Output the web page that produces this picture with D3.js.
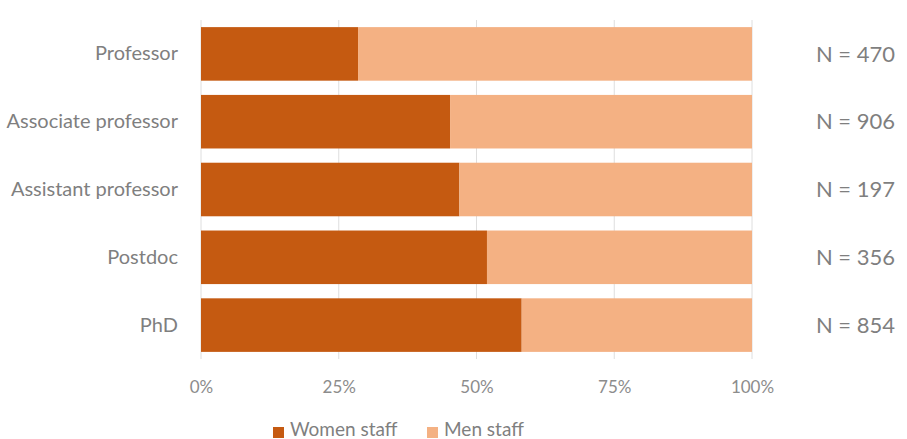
<!DOCTYPE html>
<html><head><meta charset="utf-8">
<script src="https://cdn.jsdelivr.net/npm/d3@7"></script>
<style>body{margin:0;background:#fff;} text{font-family:Lato,"Open Sans",sans-serif;}</style>
</head><body>
<svg id="chart" width="907" height="439"></svg>
<script>
const categories = ["Professor","Associate professor","Assistant professor","Postdoc","PhD"];
const womenShare = [28.5, 45.2, 46.9, 51.9, 58.2];
const menShare = [71.5, 54.8, 53.1, 48.1, 41.8];
const nLabels = ["N = 470","N = 906","N = 197","N = 356","N = 854"];
const tickValues = [0, 25, 50, 75, 100];
const seriesNames = ["Women staff","Men staff"];
const colors = ["#c55a11","#f4b183"];

const svg = d3.select("#chart");
const x = d3.scaleLinear().domain([0,100]).range([201,752]);
const y = d3.scaleBand().domain(categories).range([20,359]).paddingInner(0.21).paddingOuter(0.105);

// gridlines
svg.append("g").selectAll("line").data(tickValues).join("line")
  .attr("x1", d=>x(d)).attr("x2", d=>x(d)).attr("y1", 20).attr("y2", 359)
  .attr("stroke", "#dedede").attr("stroke-width", 1);

const rows = categories.map((c,i)=>({cat:c, w:womenShare[i], m:menShare[i]}));
const g = svg.append("g");
g.selectAll("rect.w").data(rows).join("rect").attr("class","w")
  .attr("x", x(0)).attr("y", d=>y(d.cat)).attr("height", y.bandwidth())
  .attr("width", d=>x(d.w)-x(0)).attr("fill", colors[0]);
g.selectAll("rect.m").data(rows).join("rect").attr("class","m")
  .attr("x", d=>x(d.w)).attr("y", d=>y(d.cat)).attr("height", y.bandwidth())
  .attr("width", d=>x(d.w+d.m)-x(d.w)).attr("fill", colors[1]);

// category labels
const yAxis = d3.axisLeft(y).tickSize(0).tickPadding(23);
const ya = svg.append("g").attr("transform","translate(201,0)").call(yAxis);
ya.select(".domain").remove();
ya.selectAll("text").attr("font-size",20).attr("fill","#7f7f7f").style("font-family","Lato, sans-serif");

// x axis
const xAxis = d3.axisBottom(x).tickValues(tickValues).tickFormat(d=>d+"%").tickSize(0).tickPadding(0);
const xa = svg.append("g").attr("transform","translate(0,381)").call(xAxis);
xa.select(".domain").remove();
xa.selectAll("text").attr("font-size",17).attr("fill","#8c8c8c").attr("dy","0.71em").style("font-family","Lato, sans-serif");

// N labels
svg.append("g").selectAll("text").data(rows).join("text")
  .attr("x", 895).attr("y", d=>y(d.cat)+y.bandwidth()/2).attr("dy","0.35em")
  .attr("text-anchor","end").attr("font-size",22).attr("fill","#7f7f7f")
  .text((d,i)=>nLabels[i]);

// legend
const leg = svg.append("g");
const legX = [273, 427];
seriesNames.forEach((s,i)=>{
  leg.append("rect").attr("x", legX[i]).attr("y", 427).attr("width",11).attr("height",11).attr("fill",colors[i]);
  leg.append("text").attr("x", legX[i]+17).attr("y", 436).attr("font-size",19).attr("fill","#7f7f7f").text(s);
});
</script>
</body></html>
